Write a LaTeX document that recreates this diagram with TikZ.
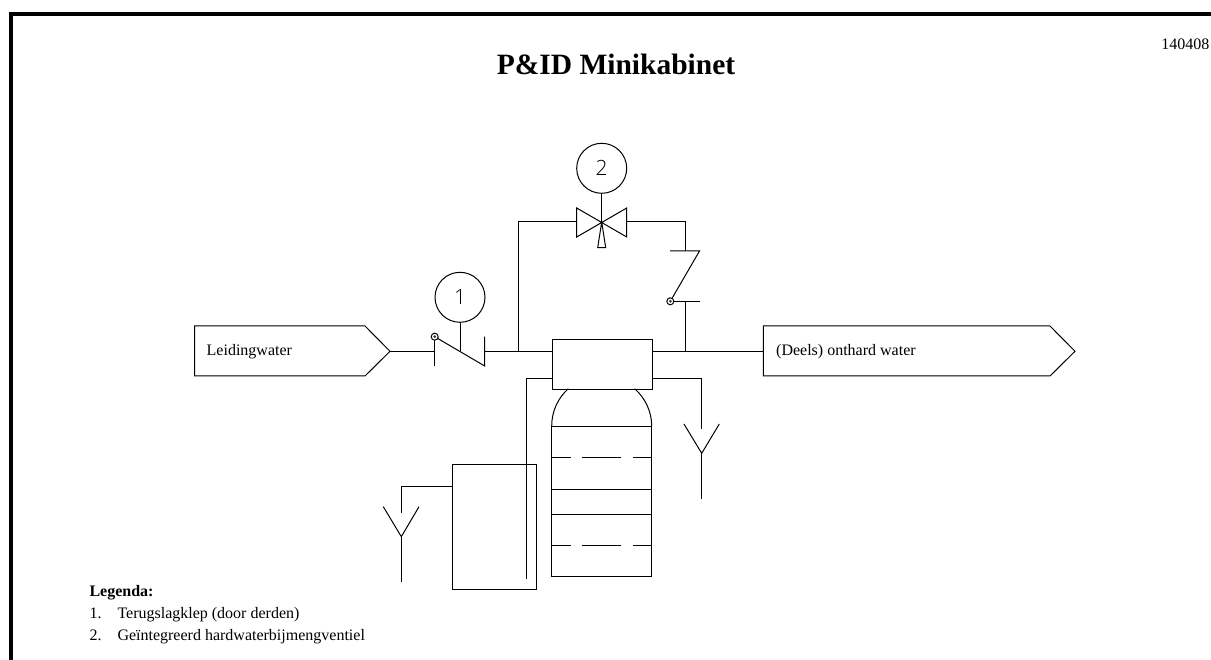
\documentclass[tikz,border=0pt]{standalone}
\usepackage{fontspec}
\setmainfont{Liberation Serif}
\newfontfamily\cadfont{Open Sans Light}
\begin{document}
\begin{tikzpicture}[x=1pt,y=-1pt,
  pipe/.style={line width=1pt,line cap=butt,line join=miter},
  frameline/.style={line width=4pt,line join=miter},
  instr/.style={circle,draw,line width=1pt,minimum size=50pt,inner sep=0pt,font=\cadfont\fontsize{21}{21}\selectfont},
  pivot/.style={circle,draw,line width=1pt,minimum size=7pt,inner sep=0pt,fill=white},
  pivotdot/.style={circle,fill=black!80,minimum size=3pt,inner sep=0pt},
  lbl/.style={anchor=base west,inner sep=0pt,font=\fontsize{16}{18}\selectfont},
  dashline/.style={pipe,dash pattern=on 19pt off 11.6pt on 38.7pt off 11.7pt on 19pt}
]
\useasboundingbox (0,0) rectangle (1211,660);
\fill[white] (0,0) rectangle (1211,660);
% frame
\coordinate (fa) at (11,660);
\coordinate (fb) at (11,14.5);
\coordinate (fc) at (1211,14.5);
\draw[frameline] (fa) -- (fb) -- (fc);
% texts
\node[anchor=base,inner sep=0pt,font=\bfseries\fontsize{29.5}{32}\selectfont] (title) at (616,74.3) {P\&ID Minikabinet};
\node[anchor=base east,inner sep=0pt,font=\fontsize{16}{18}\selectfont] (rev) at (1209.5,49.3) {140408};
\node[lbl,font=\bfseries\fontsize{16}{18}\selectfont] (lg0) at (89.3,596.7) {Legenda:};
\node[lbl] (lg1) at (89.3,618.2) {1.};
\node[lbl] (lg1t) at (117.3,618.2) {Terugslagklep (door derden)};
\node[lbl] (lg2) at (89.3,640) {2.};
\node[lbl] (lg2t) at (117.3,640) {Geïntegreerd hardwaterbijmengventiel};
% off-page connectors
\coordinate (inA) at (194.5,326);
\coordinate (inB) at (365,326);
\coordinate (inTip) at (390,351.3);
\coordinate (inC) at (365,376);
\coordinate (inD) at (194.5,376);
\draw[pipe] (inA) -- (inB) -- (inTip) -- (inC) -- (inD) -- cycle;
\node[lbl] (inL) at (206.5,356) {Leidingwater};
\coordinate (outA) at (763.3,326);
\coordinate (outB) at (1050,326);
\coordinate (outTip) at (1075,351.3);
\coordinate (outC) at (1050,376);
\coordinate (outD) at (763.3,376);
\draw[pipe] (outA) -- (outB) -- (outTip) -- (outC) -- (outD) -- cycle;
\node[lbl] (outL) at (776,356) {(Deels) onthard water};
% control unit
\node[draw,line width=1pt,minimum width=100pt,minimum height=49.7pt,inner sep=0pt,anchor=north west] (unit) at (551.7,339) {};
% check valve 1
\coordinate (v1a) at (434.7,351.3);
\coordinate (v1at) at (434.7,336.7);
\coordinate (v1ab) at (434.7,366);
\coordinate (v1b) at (484.7,351.3);
\coordinate (v1bt) at (484.7,336.7);
\coordinate (v1bb) at (484.7,366);
\coordinate (v1m) at (460,351.3);
\draw[pipe] (v1at) -- (v1ab);
\draw[pipe] (v1at) -- (v1bb) -- (v1bt);
\node[instr] (c1) at (460,297.3) {1};
\draw[pipe] (c1) -- (v1m);
\node[pivot] (p1) at (v1at) {};
\node[pivotdot] at (p1) {};
% main line
\coordinate (j1) at (518.3,351.3);
\coordinate (j2) at (685.3,351.3);
\draw[pipe] (inTip) -- (v1a);
\draw[pipe] (v1b) -- (unit.west |- v1b);
\draw[pipe] (unit.east |- j2) -- (outD |- j2);
% bypass
\coordinate (t1) at (518.3,222);
\coordinate (t2) at (685.3,222);
\coordinate (vl) at (576.7,222);
\coordinate (vr) at (626.7,222);
\coordinate (vm) at (601.7,222);
\draw[pipe] (j1) -- (t1) -- (vl);
\draw[pipe] (vl) -- (576.7,208) -- (626.7,237) -- (vr) -- (626.7,208) -- (576.7,237) -- cycle;
\draw[pipe] (vm) -- (597.7,247.7) -- (605.7,247.7) -- cycle;
\node[instr] (c2) at (601.7,168.3) {2};
\draw[pipe] (c2) -- (vm);
\coordinate (v2t) at (685.3,251);
\coordinate (v2b) at (685.3,301.3);
\draw[pipe] (vr) -- (t2) -- (v2t);
\draw[pipe] (670,251) -- (699.5,251) -- (670.3,301.3);
\draw[pipe] (670.3,301.3) -- (699.5,301.3);
\node[pivot] (p2) at (670.3,301.3) {};
\node[pivotdot] at (p2) {};
\draw[pipe] (v2b) -- (j2);
% vessel
\draw[pipe] (551.7,426.3) .. controls (551.7,411) and (558,398) .. (568.3,388.7);
\draw[pipe] (651.7,426.3) .. controls (651.7,411) and (645,398) .. (634.7,388.7);
\draw[pipe] (551.7,426.3) rectangle (651.7,576.7);
\draw[pipe] (551.7,489) -- (651.7,489);
\draw[pipe] (551.7,514) -- (651.7,514);
\draw[dashline] (551.7,457.7) -- (651.7,457.7);
\draw[dashline] (551.7,545.3) -- (651.7,545.3);
% brine tank
\node[draw,line width=1pt,minimum width=84.6pt,minimum height=125pt,inner sep=0pt,anchor=north west] (tank) at (451.7,464) {};
\coordinate (s1) at (526.7,378.7);
\coordinate (s1e) at (526.7,578.7);
\draw[pipe] (unit.west |- s1) -- (s1) -- (s1e);
% drain right
\coordinate (d1) at (701.7,378.7);
\coordinate (d1e) at (701.7,429.3);
\coordinate (y1) at (701.7,453.3);
\draw[pipe] (unit.east |- d1) -- (d1) -- (d1e);
\draw[pipe] (684,424) -- (y1) -- (719.3,424);
\draw[pipe] (y1) -- (701.7,499);
% drain left
\coordinate (d2) at (401.3,486.7);
\coordinate (d2e) at (401.3,512.7);
\coordinate (y2) at (401.3,536.7);
\draw[pipe] (tank.west |- d2) -- (d2) -- (d2e);
\draw[pipe] (383.3,506.7) -- (y2) -- (419,506.7);
\draw[pipe] (y2) -- (401.3,582);
\end{tikzpicture}
\end{document}
